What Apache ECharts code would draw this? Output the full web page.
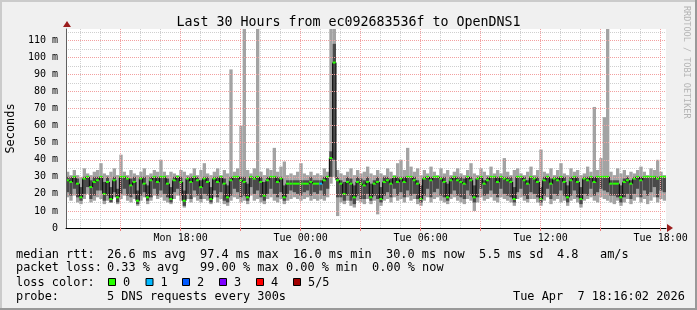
<!DOCTYPE html>
<html><head><meta charset="utf-8">
<script src="https://cdn.jsdelivr.net/npm/echarts@6/dist/echarts.min.js"></script>
<style>html,body{margin:0;padding:0;background:#f0f0f0}#c{width:697px;height:310px}</style>
</head><body><div id="c"></div>
<script>
// ---- data (ms), one entry per 10-minute step starting Mon 12:16 ----
const START_HOUR = 12 + 16/60 + 2/3600;   // Mon 12:16:02, hours since Mon 00:00
const STEP_HOURS = 1/6;
const MED = [
 28,27,30,26,18,29,30,24,27,28, 30,20,27,17,28,18,30,30,29,25,
 27,16,29,26,18,28,30,27,30,30, 26,17,28,30,27,16,29,27,30,28,
 24,29,27,17,29,27,30,26,18,28, 30,30,28,27,18,30,29,30,27,19,
 28,30,30,27,29,18,26,26,26,26, 26,26,26,27,26,26,26,28,30,41,
 97,28,26,20,27,26,18,27,26,25, 27,18,26,27,17,27,28,26,30,27,
 29,27,30,30,28,26,17,29,30,28, 30,30,29,27,18,28,30,28,27,26,
 30,28,18,29,30,26,28,30,30,27, 30,29,28,27,17,30,30,28,26,30,
 29,27,17,28,30,26,29,28,30,27, 18,28,30,27,17,29,28,30,27,30,
 30,30,30,26,26,26,18,27,28,26, 29,30,28,30,30,30,30,29,30,30];
const MIN = [
 18,16,19,15,14,17,20,15,16,18, 17,14,16,15,18,14,17,19,16,15,
 17,13,16,18,14,16,19,17,18,16, 15,14,17,19,16,12,17,15,18,16,
 15,17,16,14,18,15,17,14,13,16, 18,17,15,16,14,19,16,17,15,14,
 17,18,16,15,17,14,16,17,18,17, 16,17,18,16,17,16,17,16,18,26,
 30,7,15,14,16,13,12,16,15,14,  17,14,16,8,13,16,17,15,18,16,
 17,15,18,16,17,14,13,16,18,15, 17,18,16,15,14,17,18,16,15,14,
 17,16,10,15,18,16,17,18,16,15, 18,17,16,15,13,17,18,16,15,17,
 17,15,13,16,18,14,16,17,15,16, 13,16,17,15,12,16,17,18,16,15,
 18,17,16,15,14,16,13,15,17,14, 16,18,15,17,14,16,18,15,17,16];
const Q1 = [
 21,19,23,18,16,20,24,17,19,22, 22,16,19,15,21,15,20,23,19,18,
 20,14,19,21,16,18,23,19,22,20, 18,15,21,23,19,13,20,17,22,19,
 17,20,19,15,22,18,21,16,15,19, 23,21,18,19,16,24,20,22,18,16,
 20,23,20,18,21,16,20,22,21,20, 19,21,22,19,21,20,22,19,23,30,
 40,18,18,16,19,16,14,19,17,17, 20,16,19,17,15,19,21,18,23,19,
 21,18,22,19,20,17,15,19,23,18, 21,23,19,18,16,20,22,19,18,17,
 22,19,15,18,23,19,20,22,20,18, 23,20,19,18,15,21,23,19,17,21,
 20,18,15,19,23,17,20,19,22,19, 15,19,22,18,14,20,19,23,19,21,
 23,22,21,19,19,18,15,18,20,17, 20,23,18,22,19,21,24,18,22,21];
const Q3 = [
 30,30,30,29,24,30,30,28,30,30, 30,27,30,24,30,23,30,30,30,29,
 30,22,30,30,25,30,30,30,30,30, 29,24,30,30,30,22,30,30,30,30,
 28,30,30,24,30,30,30,29,25,30, 30,30,30,30,26,30,30,30,30,27,
 30,30,30,30,30,25,28,28,28,28, 28,28,28,30,28,28,28,30,30,45,
 108,30,28,27,30,29,25,30,29,28, 30,26,28,30,24,30,30,29,30,30,
 30,30,30,30,30,28,25,30,30,30, 30,30,30,30,26,30,30,30,30,29,
 30,30,25,30,30,28,30,30,30,30, 30,30,30,30,24,30,30,30,28,30,
 30,30,24,30,30,29,30,30,30,30, 25,30,30,30,24,30,30,30,30,30,
 30,30,30,28,28,28,25,29,30,28, 30,30,30,30,30,30,30,30,30,30];
const MAX = [
 33,31,34,31,30,35,32,31,33,34, 38,32,31,33,35,31,43,33,31,34,
 32,31,33,35,31,32,34,33,40,33, 31,33,32,31,34,33,31,32,35,31,
 34,38,32,31,33,35,31,34,32,93, 33,35,60,117,34,32,35,117,33,31,
 35,34,47,33,36,39,31,32,31,33, 38,32,31,33,31,32,31,35,33,117,
 117,34,32,31,33,35,31,34,32,33, 36,32,31,34,32,31,35,33,31,38,
 40,34,47,36,33,35,31,34,32,36, 33,31,35,32,34,31,33,35,32,31,
 34,38,32,31,35,33,31,36,32,34, 32,41,33,31,34,35,32,31,33,36,
 31,34,46,33,32,35,31,34,38,32, 31,35,33,34,31,32,36,33,71,34,
 41,65,117,33,31,35,32,34,31,33, 32,34,36,33,31,35,34,40,33,31];
const LOSS = [
 0,0,0,0,0,0,0,0,0,0, 0,0,0,0,0,0,0,0,0,0, 0,0,0,0,0,0,0,0,0,0,
 0,0,0,0,0,0,0,0,0,0, 0,0,0,0,0,0,0,0,0,0, 0,0,0,0,0,0,0,0,0,0,
 0,0,0,0,0,0,0,0,0,0, 0,0,0,0,0,0,1,0,0,0, 0,0,0,0,0,0,0,0,0,0,
 0,0,0,0,0,0,0,0,0,0, 0,0,0,0,0,0,0,0,0,0, 0,0,0,0,0,0,0,0,0,0,
 0,0,0,0,0,0,0,0,0,0, 0,0,0,0,0,0,0,0,0,0, 0,0,0,0,0,0,0,0,0,0,
 0,0,0,0,0,0,0,0,0,0, 0,0,0,0,0,0,0,0,0,0, 0,0,0,0,0,0,0,0,0,0];
// ---- axis ticks (hours since Mon 00:00, ms) ----
const X_LABEL_HOURS = [18, 24, 30, 36, 42];
const X_MAJOR_HOURS = [15, 18, 21, 24, 27, 30, 33, 36, 39, 42];
const X_MINOR_HOURS = [13,14,16,17,19,20,22,23,25,26,28,29,31,32,34,35,37,38,40,41];
const Y_MAJOR = [0,10,20,30,40,50,60,70,80,90,100,110];
const Y_MINOR = [5,15,25,35,45,55,65,75,85,95,105,115];
const LOSS_LABELS = ['0','1','2','3','4','5/5'];
const LOSS_COLORS = ['#26ff00','#00b8ff','#0059ff','#7e00ff','#ff0000','#a10000'];

const END_HOUR = START_HOUR + 30;
const Y_MAX = 116.7;
const MONO = '"DejaVu Sans Mono", monospace';
const LIGHT = '#a3a3a3', DARK = '#4a4a4a';

const smokeData = MED.map((m, i) => [START_HOUR + i * STEP_HOURS, MIN[i], Q1[i], m, Q3[i], MAX[i], LOSS[i]]);

function renderSmoke(params, api) {
  const i = params.dataIndex;
  const t = api.value(0);
  const xL = api.coord([t, 0])[0];
  const xR = api.coord([t + STEP_HOURS, 0])[0];
  const w = xR - xL;
  const y = v => api.coord([t, Math.min(v, Y_MAX)])[1];
  const yMin = y(api.value(1)), yQ1 = y(api.value(2)), yMed = y(api.value(3)), yQ3 = y(api.value(4)), yMax = y(api.value(5));
  const ch = [
    {type:'rect', shape:{x:xL, y:yMax, width:w, height:yMin - yMax}, style:{fill:LIGHT}},
    {type:'rect', shape:{x:xL, y:yQ3, width:w, height:yQ1 - yQ3}, style:{fill:DARK}}
  ];
  if (i > 0) {
    const yPrev = y(MED[i - 1]);
    ch.push({type:'line', shape:{x1:xL, y1:yPrev, x2:xL, y2:yMed}, style:{stroke:'#000', lineWidth:1}});
  }
  ch.push({type:'rect', shape:{x:xL, y:yMed - 1, width:w, height:2}, style:{fill:LOSS_COLORS[api.value(6)]}});
  return {type:'group', children: ch};
}

function fmtHour(v) {
  const h = Math.round(v);
  const day = h < 24 ? 'Mon' : 'Tue';
  const hh = String(h % 24).padStart(2, '0');
  return day + ' ' + hh + ':00';
}

const chart = echarts.init(document.getElementById('c'), null, {renderer:'canvas'});

const txt = (x, y, s, extra) => Object.assign({type:'text', x, y, style:Object.assign({text:s, fontFamily:MONO, fontSize:11.9, fill:'#000', verticalAlign:'middle'}, extra || {})});

const graphics = [
  {type:'rect', shape:{x:0, y:0, width:697, height:2}, style:{fill:'#cbcbcb'}},
  {type:'rect', shape:{x:0, y:0, width:2, height:310}, style:{fill:'#cbcbcb'}},
  {type:'rect', shape:{x:0, y:308, width:697, height:2}, style:{fill:'#999999'}},
  {type:'rect', shape:{x:695, y:0, width:2, height:310}, style:{fill:'#999999'}},
  {type:'text', x:686, y:6, rotation:-Math.PI/2, style:{text:'RRDTOOL / TOBI OETIKER', fontFamily:MONO, fontSize:8.5, fill:'#b4b4b4', verticalAlign:'middle', align:'left'}},
  {type:'polygon', shape:{points:[[63,27],[71,27],[67,21]]}, style:{fill:'#9b1c1c'}},
  {type:'polygon', shape:{points:[[667,224],[667,232],[673,228]]}, style:{fill:'#9b1c1c'}},
  txt(16, 254.5, 'median rtt:'),
  txt(107, 254.5, '26.6 ms avg'),
  txt(200, 254.5, '97.4 ms max'),
  txt(293, 254.5, '16.0 ms min'),
  txt(386, 254.5, '30.0 ms now'),
  txt(479, 254.5, '5.5 ms sd'),
  txt(557, 254.5, '4.8'),
  txt(600, 254.5, 'am/s'),
  txt(16, 268.3, 'packet loss:'),
  txt(107, 268.3, '0.33 % avg'),
  txt(200, 268.3, '99.00 % max'),
  txt(286, 268.3, '0.00 % min'),
  txt(372, 268.3, '0.00 % now'),
  txt(16, 282.5, 'loss color:'),
  txt(16, 296.5, 'probe:'),
  txt(107, 296.5, '5 DNS requests every 300s'),
  txt(513, 296.5, 'Tue Apr  7 18:16:02 2026')
];
const BOX_X = [108, 145.5, 182, 219, 256, 293];
LOSS_LABELS.forEach((lab, k) => {
  graphics.push({type:'rect', shape:{x:BOX_X[k] + 0.5, y:278.5, width:7, height:7}, style:{fill:LOSS_COLORS[k], stroke:'#000', lineWidth:1}});
  graphics.push(txt(BOX_X[k] + 15, 282.5, lab));
});

const axisLbl = {fontFamily:MONO, fontSize:10, color:'#000'};

chart.setOption({
  backgroundColor:'#f0f0f0',
  animation:false,
  title:{text:'Last 30 Hours from ec092683536f to OpenDNS1', left:'center', top:11,
    textStyle:{fontFamily:MONO, fontSize:13.3, fontWeight:'normal', color:'#000'}},
  grid:{left:66, right:31, top:29, bottom:82, show:true, backgroundColor:'#ffffff', borderWidth:0,
        containLabel:false, outerBoundsMode:'none'},
  xAxis:[
    {type:'value', min:START_HOUR, max:END_HOUR, z:3,
     axisLine:{show:true, lineStyle:{color:'#000', width:1}},
     axisTick:{show:true, customValues:X_MAJOR_HOURS, length:3, inside:false, lineStyle:{color:'#f08080'}},
     axisLabel:{customValues:X_LABEL_HOURS, formatter:fmtHour, margin:5, ...axisLbl},
     splitLine:{show:true, lineStyle:{color:'#f2a0a0', type:[1,1], width:1}}},
    {type:'value', min:START_HOUR, max:END_HOUR, z:1,
     axisLine:{show:false}, axisLabel:{show:false},
     axisTick:{show:false, customValues:X_MINOR_HOURS},
     splitLine:{show:true, lineStyle:{color:'#cfcfcf', type:[1,1], width:1}}}
  ],
  yAxis:[
    {type:'value', min:0, max:Y_MAX, z:3, name:'Seconds', nameLocation:'middle', nameGap:49, nameRotate:90,
     nameTextStyle:{fontFamily:MONO, fontSize:11.9, color:'#000'},
     axisLine:{show:true, lineStyle:{color:'#606060'}},
     axisTick:{show:false, customValues:Y_MAJOR},
     axisLabel:{customValues:Y_MAJOR, margin:8, formatter:v => v === 0 ? '0' : v + ' m', ...axisLbl},
     splitLine:{show:true, lineStyle:{color:'#f2a0a0', type:[1,1], width:1}}},
    {type:'value', min:0, max:Y_MAX, z:1,
     axisLine:{show:false}, axisLabel:{show:false},
     axisTick:{show:false, customValues:Y_MINOR},
     splitLine:{show:true, lineStyle:{color:'#cfcfcf', type:[1,1], width:1}}}
  ],
  series:[{type:'custom', xAxisIndex:0, yAxisIndex:0, clip:true, renderItem:renderSmoke, data:smokeData, z:2}],
  graphic:graphics
});
</script></body></html>
